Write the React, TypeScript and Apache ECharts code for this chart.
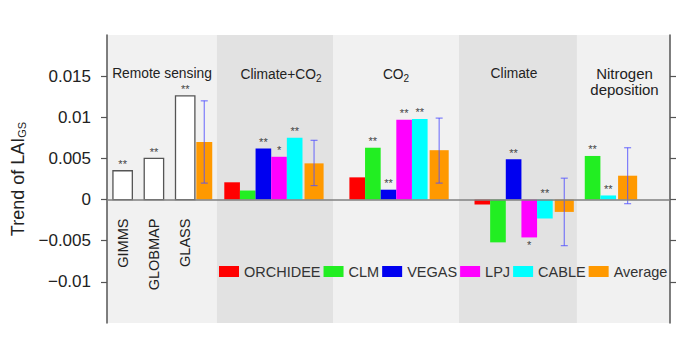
import React, { useEffect, useRef } from 'react';
import * as echarts from 'echarts';

// ---------------- data ----------------
const groupLabels = ['Remote sensing', '{a|Climate+CO}{s|2}', '{a|CO}{s|2}', 'Climate', 'Nitrogen\ndeposition'];
const rsProducts = ['GIMMS', 'GLOBMAP', 'GLASS'];
const rsValues = [0.0035, 0.005, 0.0126];
const rsSig = ['**', '**', '**'];
const rsAverage = 0.007;
const rsAvgErr = [0.002, 0.012];

const models = ['ORCHIDEE', 'CLM', 'VEGAS', 'LPJ', 'CABLE'];
// values per experiment: [Climate+CO2, CO2, Climate, Nitrogen deposition]
const orchidee = [0.0021, 0.0027, -0.0006, null];
const clm = [0.0011, 0.0063, -0.0052, 0.0053];
const vegas = [0.0062, 0.0012, 0.0049, null];
const lpj = [0.0052, 0.0097, -0.0046, null];
const cable = [0.0075, 0.0098, -0.0023, 0.0005];
const average = [0.0044, 0.006, -0.0015, 0.0029];
const avgErrLow = [0.0017, 0.002, -0.0056, -0.0005];
const avgErrHigh = [0.0072, 0.0099, 0.0026, 0.0063];

const orchideeSig = ['', '', '', ''];
const clmSig = ['', '**', '', '**'];
const vegasSig = ['**', '**', '**', ''];
const lpjSig = ['*', '**', '*', ''];
const cableSig = ['**', '**', '**', '**'];
const lpjSigBelow = [false, false, true, false];

const yTicks = [-0.01, -0.005, 0, 0.005, 0.01, 0.015];

// ---------------- layout / style ----------------
const FONT = 'Liberation Sans, Arial, Helvetica, sans-serif';
const Y_MIN = -0.015;
const Y_MAX = 0.02;
const X_MAX = 36;
const PANEL_EDGES = [0, 7.03, 14.45, 22.51, 30.05, 36];
const PANEL_FILL = ['#f1f1f1', '#e2e2e2'];
const LABEL_DX = [0, 6, 0, -4, 1];
const LABEL_DY = [38, 40.8, 40.8, 38, 46];
const LABEL_SIZE = [13.8, 13.8, 13.8, 13.8, 15];
const MODEL_GROUP_START = [7.5, 15.5, 23.5, 30.55];
const AVG_GAP = 0.13;
const AVG_W = 1.22;
const RS_BAR_W = 1.24;
const RS_AVG_LEFT = 5.71;
const RS_AVG_W = 1.02;
const COLORS: Record<string, string> = {
  ORCHIDEE: '#ff0000',
  CLM: '#22ee22',
  VEGAS: '#0000f0',
  LPJ: '#ff00ff',
  CABLE: '#00ffff',
  Average: '#ff9900',
};
const ERR_COLOR = 'rgba(80,80,255,0.72)';
const STAR_STYLE = { fontSize: 11, fill: '#444', fontFamily: FONT };

const modelValues = [orchidee, clm, vegas, lpj, cable];
const modelSig = [orchideeSig, clmSig, vegasSig, lpjSig, cableSig];

function presentIndex(g: number, m: number) {
  let k = 0;
  for (let i = 0; i < m; i++) if (modelValues[i][g] !== null) k++;
  return k;
}
function presentCount(g: number) {
  return modelValues.filter((arr) => arr[g] !== null).length;
}

function buildOption() {
  const series: any[] = [];

  // panels + group titles
  series.push({
    type: 'custom',
    name: 'panels',
    silent: true,
    z: 0,
    data: groupLabels.map((_, i) => [PANEL_EDGES[i], PANEL_EDGES[i + 1]]),
    renderItem: (params: any, api: any) => {
      const i = params.dataIndex;
      const a = api.coord([PANEL_EDGES[i], Y_MAX]);
      const b = api.coord([PANEL_EDGES[i + 1], Y_MIN]);
      const fs = LABEL_SIZE[i];
      return {
        type: 'group',
        children: [
          {
            type: 'rect',
            shape: { x: a[0], y: a[1], width: b[0] - a[0], height: b[1] - a[1] },
            style: { fill: PANEL_FILL[i % 2] },
          },
          {
            type: 'text',
            x: (a[0] + b[0]) / 2 + LABEL_DX[i],
            y: a[1] + LABEL_DY[i],
            style: {
              text: groupLabels[i],
              align: 'center',
              verticalAlign: 'middle',
              fontSize: fs,
              fontFamily: FONT,
              fill: '#222',
              lineHeight: 16,
              rich: {
                a: { fontSize: fs, fontFamily: FONT, fill: '#222', verticalAlign: 'top', lineHeight: 16 },
                s: { fontSize: 10, fontFamily: FONT, fill: '#222', verticalAlign: 'bottom', lineHeight: 10, padding: [11, 0, 0, 0] },
              },
            },
          },
        ],
      };
    },
  });

  // remote sensing bars
  series.push({
    type: 'custom',
    name: 'Remote sensing',
    z: 3,
    data: rsValues.map((v, i) => [1 + 2 * i, v]),
    renderItem: (params: any, api: any) => {
      const i = params.dataIndex;
      const xc = api.value(0);
      const v = api.value(1);
      const p0 = api.coord([xc - RS_BAR_W / 2, 0]);
      const p1 = api.coord([xc + RS_BAR_W / 2, v]);
      return {
        type: 'group',
        children: [
          {
            type: 'rect',
            shape: { x: p0[0], y: p1[1], width: p1[0] - p0[0], height: p0[1] - p1[1] },
            style: { fill: '#ffffff', stroke: '#555', lineWidth: 1.3 },
          },
          {
            type: 'text',
            x: (p0[0] + p1[0]) / 2,
            y: p1[1] - 1,
            style: { ...STAR_STYLE, text: rsSig[i], align: 'center', verticalAlign: 'bottom' },
          },
          {
            type: 'text',
            x: (p0[0] + p1[0]) / 2,
            y: p0[1] + 19,
            rotation: Math.PI / 2,
            style: {
              text: rsProducts[i],
              align: 'right',
              verticalAlign: 'middle',
              fontSize: 14.5,
              fontFamily: FONT,
              fill: '#222',
            },
          },
        ],
      };
    },
  });

  // model series
  models.forEach((name, m) => {
    const data: any[] = [];
    modelValues[m].forEach((v, g) => {
      if (v === null) return;
      data.push([MODEL_GROUP_START[g] + presentIndex(g, m) + 0.5, v, g]);
    });
    series.push({
      type: 'custom',
      name,
      z: 3,
      itemStyle: { color: COLORS[name] },
      data,
      renderItem: (params: any, api: any) => {
        const xc = api.value(0);
        const v = api.value(1);
        const g = api.value(2);
        const p0 = api.coord([xc - 0.5, 0]);
        const p1 = api.coord([xc + 0.5, v]);
        const sig = modelSig[m][g];
        const below = name === 'LPJ' && lpjSigBelow[g];
        const children: any[] = [
          {
            type: 'rect',
            shape: {
              x: p0[0],
              y: Math.min(p0[1], p1[1]),
              width: p1[0] - p0[0],
              height: Math.abs(p0[1] - p1[1]),
            },
            style: { fill: COLORS[name] },
          },
        ];
        if (sig) {
          const cx = (p0[0] + p1[0]) / 2;
          if (below) {
            children.push({
              type: 'text',
              x: cx,
              y: Math.max(p0[1], p1[1]) + 2,
              style: { ...STAR_STYLE, text: sig, align: 'center', verticalAlign: 'top' },
            });
          } else {
            children.push({
              type: 'text',
              x: cx,
              y: Math.min(p0[1], p1[1]) - 1,
              style: { ...STAR_STYLE, text: sig, align: 'center', verticalAlign: 'bottom' },
            });
          }
        }
        return { type: 'group', children };
      },
    });
  });

  // average series with error bars
  const avgData: any[] = [[RS_AVG_LEFT + RS_AVG_W / 2, rsAverage, RS_AVG_W, rsAvgErr[0], rsAvgErr[1]]];
  average.forEach((v, g) => {
    const n = presentCount(g);
    avgData.push([MODEL_GROUP_START[g] + n + AVG_GAP + AVG_W / 2, v, AVG_W, avgErrLow[g], avgErrHigh[g]]);
  });
  series.push({
    type: 'custom',
    name: 'Average',
    z: 4,
    itemStyle: { color: COLORS.Average },
    data: avgData,
    renderItem: (params: any, api: any) => {
      const xc = api.value(0);
      const v = api.value(1);
      const w = api.value(2);
      const lo = api.coord([xc, api.value(3)]);
      const hi = api.coord([xc, api.value(4)]);
      const p0 = api.coord([xc - w / 2, 0]);
      const p1 = api.coord([xc + w / 2, v]);
      const cap = 3.5;
      return {
        type: 'group',
        children: [
          {
            type: 'rect',
            shape: {
              x: p0[0],
              y: Math.min(p0[1], p1[1]),
              width: p1[0] - p0[0],
              height: Math.abs(p0[1] - p1[1]),
            },
            style: { fill: COLORS.Average },
          },
          { type: 'line', shape: { x1: lo[0], y1: lo[1], x2: hi[0], y2: hi[1] }, style: { stroke: ERR_COLOR, lineWidth: 1.2 } },
          { type: 'line', shape: { x1: lo[0] - cap, y1: lo[1], x2: lo[0] + cap, y2: lo[1] }, style: { stroke: ERR_COLOR, lineWidth: 1.2 } },
          { type: 'line', shape: { x1: hi[0] - cap, y1: hi[1], x2: hi[0] + cap, y2: hi[1] }, style: { stroke: ERR_COLOR, lineWidth: 1.2 } },
        ],
      };
    },
  });

  const fmt = (v: number) => {
    const s = String(Number(Math.abs(v).toFixed(4)));
    return v < 0 ? '\u2212' + s : s;
  };

  return {
    animation: false,
    backgroundColor: '#ffffff',
    textStyle: { fontFamily: FONT },
    grid: { left: 107, right: 30, top: 35, bottom: 20 },
    legend: {
      data: [...models, 'Average'],
      left: 219,
      top: 264,
      icon: 'rect',
      itemWidth: 20,
      itemHeight: 11,
      itemGap: 3,
      padding: 0,
      selectedMode: false,
      textStyle: { fontSize: 14.5, color: '#333', fontFamily: FONT },
    },
    xAxis: {
      type: 'value',
      min: 0,
      max: X_MAX,
      z: 10,
      axisLine: { show: true, onZero: true, lineStyle: { color: '#808080', width: 1.5 } },
      axisTick: { show: false },
      axisLabel: { show: false },
      splitLine: { show: false },
    },
    yAxis: [
      {
        type: 'value',
        position: 'left',
        min: Y_MIN,
        max: Y_MAX,
        interval: 0.005,
        z: 10,
        name: '{a|Trend of LAI}{b|GS}',
        nameLocation: 'middle',
        nameGap: 80,
        nameTextStyle: {
          rich: {
            a: { fontSize: 18, color: '#222', fontFamily: FONT, verticalAlign: 'bottom', lineHeight: 20 },
            b: { fontSize: 11, color: '#222', fontFamily: FONT, verticalAlign: 'bottom', lineHeight: 12 },
          },
        },
        axisLine: { show: true, lineStyle: { color: '#555', width: 1.5 } },
        axisTick: { show: true, inside: false, length: 6, customValues: yTicks, lineStyle: { color: '#555', width: 1.2 } },
        axisLabel: { customValues: yTicks, formatter: fmt, fontSize: 17, color: '#222', margin: 16, fontFamily: FONT },
        splitLine: { show: false },
      },
      {
        type: 'value',
        position: 'right',
        min: Y_MIN,
        max: Y_MAX,
        interval: 0.005,
        z: 10,
        axisLine: { show: true, lineStyle: { color: '#555', width: 1.5 } },
        axisTick: { show: true, inside: false, length: 6, customValues: yTicks, lineStyle: { color: '#555', width: 1.2 } },
        axisLabel: { show: false },
        splitLine: { show: false },
      },
    ],
    series,
  };
}

export default function App() {
  const ref = useRef<HTMLDivElement>(null);
  useEffect(() => {
    const chart = echarts.init(ref.current!, null, { renderer: 'svg' });
    chart.setOption(buildOption() as any);
    return () => chart.dispose();
  }, []);
  return <div ref={ref} style={{ position: 'absolute', left: 0, top: 0, width: 700, height: 343 }} />;
}
